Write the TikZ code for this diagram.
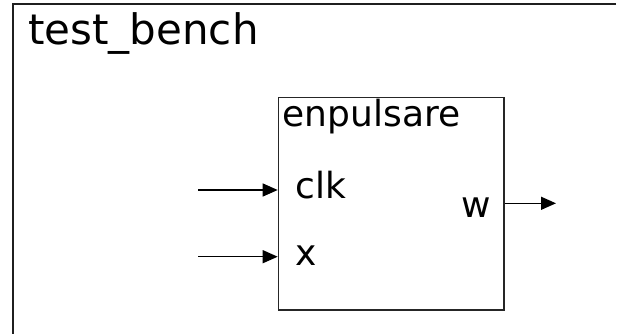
\documentclass[tikz,border=0pt]{standalone}
\usepackage{fontspec}
\setmainfont{DejaVu Sans}
\usetikzlibrary{arrows.meta}
\begin{document}
\begin{tikzpicture}[x=1pt,y=-1pt,
  frame/.style={draw=black!88,line width=2pt},
  block/.style={draw=black!85,line width=1.5pt},
  port/.style={line width=1.3pt,-{Triangle[length=15pt,width=13pt]}},
  lbl/.style={anchor=base west,inner sep=0pt,font=\fontsize{36}{40}\selectfont},
  title/.style={anchor=base west,inner sep=0pt,font=\fontsize{42}{48}\selectfont}]
\useasboundingbox (0,0) rectangle (621,334);
% outer test bench frame (only top and left edges visible)
\coordinate (tl) at (12.7,4);
\coordinate (tr) at (616,4);
\coordinate (bl) at (12.7,334);
\draw[frame] (tr) -- (tl) -- (bl);
\node[title] (tb) at (28,45) {test\_bench};
% unit under test
\node[block,minimum width=225.6pt,minimum height=212.3pt,anchor=north west,inner sep=0pt] (dut) at (277.7,97) {};
\node[lbl] (name) at (282.5,126.7) {enpulsare};
\node[lbl] (clk) at (295,198.3) {clk};
\node[lbl] (x) at (295,265) {x};
\node[lbl] (w) at (461,217.3) {w};
% ports
\coordinate (clkin) at (198,190);
\coordinate (xin) at (198,256.7);
\coordinate (wout) at (556,203.3);
\draw[port] (clkin) -- (clkin -| dut.west);
\draw[port] (xin) -- (xin -| dut.west);
\draw[port] (wout -| dut.east) -- (wout);
\end{tikzpicture}
\end{document}
